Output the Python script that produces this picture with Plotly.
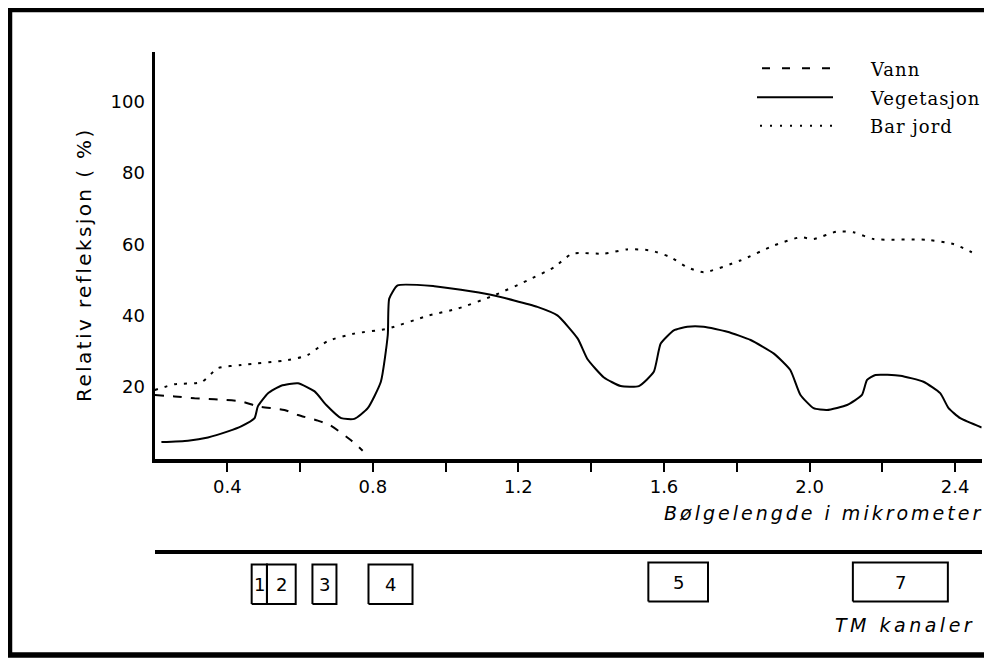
import plotly.graph_objects as go

# ---------------- data ----------------
veg_x = [0.219, 0.292, 0.347, 0.402, 0.438, 0.475, 0.484, 0.512, 0.548, 0.594, 0.640, 0.672,
         0.713, 0.749, 0.786, 0.822, 0.841, 0.845, 0.868, 0.969, 1.042, 1.124, 1.188, 1.252,
         1.307, 1.363, 1.390, 1.435, 1.481, 1.531, 1.572, 1.591, 1.627, 1.664, 1.709, 1.774,
         1.838, 1.902, 1.947, 1.975, 2.011, 2.048, 2.103, 2.144, 2.158, 2.181, 2.249, 2.313,
         2.359, 2.382, 2.414, 2.473]
veg_y = [4.6, 5.0, 5.9, 7.6, 9.0, 11.3, 14.6, 18.3, 20.4, 21.1, 18.8, 15.0,
         11.3, 11.1, 14.1, 21.5, 34.6, 44.8, 48.5, 48.3, 47.3, 45.9, 44.3, 42.5,
         40.1, 33.6, 27.8, 22.7, 20.3, 20.3, 24.3, 32.2, 35.9, 36.9, 36.9, 35.5,
         33.2, 29.4, 24.8, 17.8, 14.1, 13.6, 15.0, 17.8, 22.0, 23.4, 23.2, 21.5,
         18.3, 14.1, 11.3, 8.7]

soil_x = [0.201, 0.255, 0.329, 0.374, 0.438, 0.567, 0.621, 0.676, 0.749, 0.841, 0.951, 1.033,
          1.133, 1.225, 1.298, 1.348, 1.435, 1.499, 1.563, 1.618, 1.664, 1.709, 1.810, 1.902,
          1.975, 2.011, 2.075, 2.121, 2.176, 2.322, 2.395, 2.446]
soil_y = [19.2, 20.8, 21.4, 25.3, 26.2, 27.6, 29.0, 32.9, 35.0, 36.4, 40.0, 42.0,
          45.7, 49.9, 53.6, 57.4, 57.4, 58.6, 58.3, 56.4, 53.6, 52.2, 55.5, 59.7,
          62.0, 61.5, 63.6, 63.4, 61.5, 61.3, 60.1, 57.8]

water_x = [0.201, 0.255, 0.310, 0.365, 0.438, 0.484, 0.557, 0.594, 0.649, 0.681, 0.740, 0.772]
water_y = [17.8, 17.4, 16.9, 16.6, 16.0, 14.6, 13.6, 12.2, 10.6, 9.4, 5.1, 2.2]

series_names = ["Vann", "Vegetasjon", "Bar jord"]

x_tickvals = [0.4, 0.6, 0.8, 1.0, 1.2, 1.4, 1.6, 1.8, 2.0, 2.2, 2.4]
x_ticktext = ["0.4", "", "0.8", "", "1.2", "", "1.6", "", "2.0", "", "2.4"]
y_tickvals = [20, 40, 60, 80, 100]

band_labels = ["1", "2", "3", "4", "5", "7"]
band_start = [0.467, 0.509, 0.634, 0.788, 1.557, 2.119]
band_end = [0.509, 0.588, 0.700, 0.909, 1.721, 2.380]

# ---------------- figure ----------------
# the page body has an 8px margin, so the figure is sized to fill the rest of the window
OFF = 8
W, H = 992 - OFF, 661 - OFF


def px(v):
    return (v - OFF) / W


def py(v):
    return 1 - (v - OFF) / H


fig = go.Figure()

fig.add_trace(go.Scatter(x=water_x, y=water_y, mode="lines", name=series_names[0],
                         line=dict(color="black", width=2, dash="9px,9px", shape="spline", smoothing=0.6),
                         showlegend=False, xaxis="x", yaxis="y"))
fig.add_trace(go.Scatter(x=veg_x, y=veg_y, mode="lines", name=series_names[1],
                         line=dict(color="black", width=2, shape="spline", smoothing=0.5),
                         showlegend=False, xaxis="x", yaxis="y"))
fig.add_trace(go.Scatter(x=soil_x, y=soil_y, mode="lines", name=series_names[2],
                         line=dict(color="black", width=2, dash="3px,7px", shape="spline", smoothing=0.6),
                         showlegend=False, xaxis="x", yaxis="y"))

# TM band boxes (on the lower axis)
for i, lab in enumerate(band_labels):
    big = lab in ("5", "7")
    y0, y1 = (4.45, 8.98) if big else (4.16, 8.75)
    s, e = band_start[i], band_end[i]
    fig.add_trace(go.Scatter(x=[s, e, e, s, s], y=[y0, y0, y1, y1, y0], mode="lines",
                             line=dict(color="black", width=2), showlegend=False,
                             hoverinfo="skip", xaxis="x2", yaxis="y2"))
    fig.add_annotation(x=(s + e) / 2, y=(y0 + y1) / 2, xref="x2", yref="y2", text=lab,
                       xanchor="center", yanchor="middle",
                       showarrow=False, font=dict(family="DejaVu Sans", size=18, color="black"))

xdom = [px(154.5), px(981.7)]
fig.update_layout(
    width=W, height=H,
    margin=dict(l=0, r=0, t=0, b=0),
    paper_bgcolor="white", plot_bgcolor="white",
    showlegend=False,
    xaxis=dict(domain=xdom, range=[0.2, 2.473], showgrid=False, zeroline=False,
               showline=True, linewidth=4, linecolor="black",
               tickmode="array", tickvals=x_tickvals, ticktext=x_ticktext,
               ticks="outside", ticklen=9, tickwidth=2, tickcolor="black",
               tickfont=dict(family="DejaVu Sans", size=18, color="black"),
               anchor="y"),
    yaxis=dict(domain=[py(458.5), py(51.7)], range=[0, 114], showgrid=False, zeroline=False,
               showline=True, linewidth=3, linecolor="black",
               tickmode="array", tickvals=y_tickvals, ticks="",
               ticklabelstandoff=3,
               tickfont=dict(family="DejaVu Sans", size=18, color="black"),
               anchor="x"),
    xaxis2=dict(domain=xdom, matches="x", range=[0.2, 2.473], anchor="y2", side="top",
                showline=True, linewidth=4, linecolor="black", showgrid=False, zeroline=False,
                showticklabels=False, ticks=""),
    yaxis2=dict(domain=[py(640), py(553.7)], range=[0, 10], anchor="x2", visible=False),
)

# axis titles
fig.add_annotation(x=px(84), y=py(265), xref="paper", yref="paper", textangle=-90,
                   xanchor="center", yanchor="middle",
                   text='<span style="letter-spacing:2.4px">Relativ refleksjon ( %)</span>',
                   showarrow=False, font=dict(family="DejaVu Sans", size=20, color="black"))
fig.add_annotation(x=px(985), y=py(513), xref="paper", yref="paper",
                   xanchor="right", yanchor="middle",
                   text='<i><span style="letter-spacing:3px">Bølgelengde i mikrometer</span></i>',
                   showarrow=False, font=dict(family="DejaVu Sans", size=19, color="black"))
fig.add_annotation(x=px(977), y=py(625), xref="paper", yref="paper",
                   xanchor="right", yanchor="middle",
                   text='<i><span style="letter-spacing:3.5px">TM kanaler</span></i>',
                   showarrow=False, font=dict(family="DejaVu Sans", size=19, color="black"))

# legend (manual)
leg_rows = [68.3, 97.3, 125.7]
leg_dash = ["8px,12px", "solid", "2px,8px"]
leg_x0 = [762, 757, 760]
for name, yy, d, x0 in zip(series_names, leg_rows, leg_dash, leg_x0):
    fig.add_shape(type="line", xref="paper", yref="paper", x0=px(x0), x1=px(833),
                  y0=py(yy), y1=py(yy), line=dict(color="black", width=2, dash=d))
    fig.add_annotation(x=px(868), y=py(yy + 1), xref="paper", yref="paper",
                       xanchor="left", yanchor="middle",
                       text='<span style="letter-spacing:1px">' + name + '</span>',
                       showarrow=False, font=dict(family="DejaVu Serif", size=18, color="black"))

# outer frame
fig.add_shape(type="rect", xref="paper", yref="paper", x0=px(9.5), x1=px(987),
              y0=py(655), y1=py(9.5), line=dict(color="black", width=5.5))

fig.write_html("out.html")
